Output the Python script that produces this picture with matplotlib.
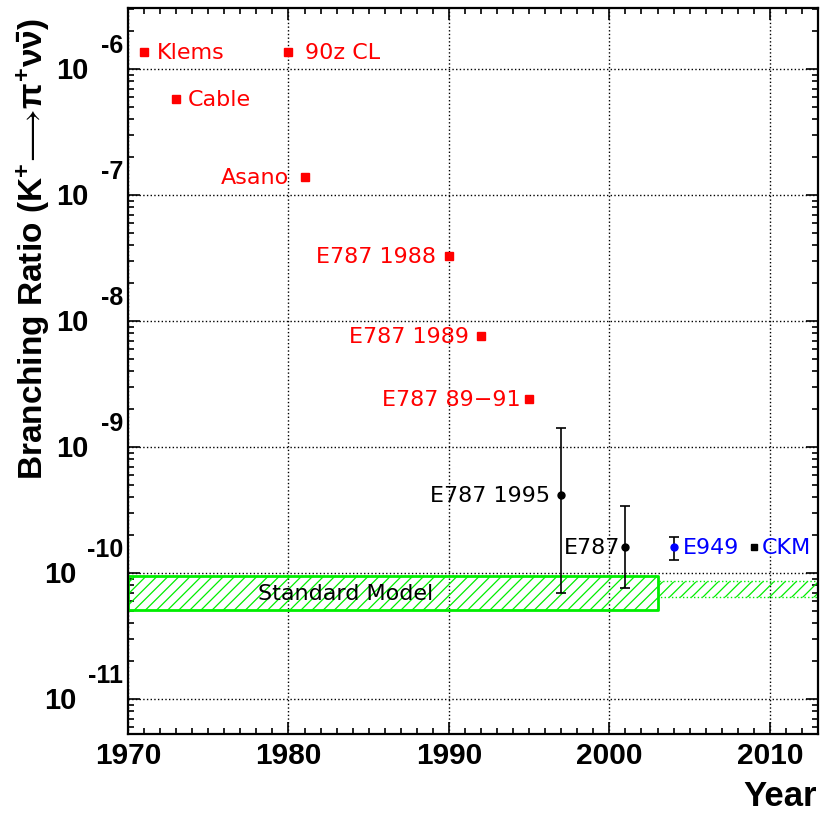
import matplotlib
matplotlib.use("Agg")
import matplotlib.pyplot as plt
from matplotlib.ticker import MultipleLocator, LogLocator, NullFormatter
import numpy as np

plt.rcParams['mathtext.fontset'] = 'custom'
plt.rcParams['mathtext.rm'] = 'Liberation Sans:bold'
plt.rcParams['mathtext.it'] = 'Liberation Sans:bold'
plt.rcParams['mathtext.bf'] = 'Liberation Sans:bold'
plt.rcParams['mathtext.fallback'] = 'stixsans'
plt.rcParams['hatch.linewidth'] = 0.9

# upper limits (red squares)
limit_years = [1971, 1980, 1973, 1981, 1990, 1992, 1995]
limit_br = [1.37e-6, 1.37e-6, 5.8e-7, 1.38e-7, 3.3e-8, 7.6e-9, 2.4e-9]
limit_labels = ['Klems', '90z CL', 'Cable', 'Asano', 'E787 1988', 'E787 1989', 'E787 89\u221291']

# E787 measurements (black)
e787_years = [1997, 2001]
e787_br = [4.2e-10, 1.6e-10]
e787_lo = [7.0e-11, 7.7e-11]
e787_hi = [1.41e-9, 3.4e-10]
e787_labels = ['E787 1995', 'E787']

# E949 (blue)
e949_year = [2004]
e949_br = [1.6e-10]
e949_lo = [1.28e-10]
e949_hi = [1.95e-10]

# CKM
ckm_year = [2009]
ckm_br = [1.6e-10]
ckm_lo = [1.53e-10]
ckm_hi = [1.67e-10]

# Standard Model band
sm_x = [1970, 2003]
sm_lo, sm_hi = 5.06e-11, 9.46e-11
sm_ext_x = [2003, 2013]
sm_ext_lo, sm_ext_hi = 6.5e-11, 8.6e-11

decades = [-6, -7, -8, -9, -10, -11]
year_ticks = [1970, 1980, 1990, 2000, 2010]

fig = plt.figure(figsize=(8.24, 8.23), dpi=100)
ax = fig.add_axes([128/824, 1-734/823, (818-128)/824, (734-8)/823])
ax.set_yscale('log')
ax.set_xlim(1970, 2013)
ax.set_ylim(5.3e-12, 3.05e-6)

# SM band
ax.fill_between(sm_x, sm_lo, sm_hi, facecolor='none', edgecolor='#00ee00',
                hatch='///', linewidth=2, zorder=2)
ax.fill_between(sm_ext_x, sm_ext_lo, sm_ext_hi, facecolor='none', edgecolor='#00ee00',
                hatch='///', linewidth=1, linestyle=':', zorder=2)
ax.text(1978.1, 6.85e-11, 'Standard Model', fontsize=16, va='center', ha='left', zorder=5)

px = 0.72  # points per pixel

# red limits
ax.plot(limit_years, limit_br, 's', color='red', ms=5.5, zorder=4)
red_offsets = [13, 17, 12, -15, -13, -12, -9]
for yr, br, lab, off in zip(limit_years, limit_br, limit_labels, red_offsets):
    ax.annotate(lab, (yr, br), xytext=(off*px, -1*px), textcoords='offset points',
                color='red', fontsize=16, va='center', ha='left' if off > 0 else 'right')

# E787 black
ax.errorbar(e787_years, e787_br,
            yerr=[np.array(e787_br)-np.array(e787_lo), np.array(e787_hi)-np.array(e787_br)],
            fmt='o', color='black', ms=5, lw=1.2, capsize=3.5, capthick=1.2, zorder=4)
for yr, br, lab, off in zip(e787_years, e787_br, e787_labels, [-11, -5]):
    ax.annotate(lab, (yr, br), xytext=(off*px, -1*px), textcoords='offset points',
                color='black', fontsize=16, va='center', ha='right')

# E949 blue
ax.errorbar(e949_year, e949_br,
            yerr=[np.array(e949_br)-np.array(e949_lo), np.array(e949_hi)-np.array(e949_br)],
            fmt='o', color='blue', ecolor='black', ms=5, lw=1.2, capsize=3.5, capthick=1.2, zorder=4)
ax.annotate('E949', (e949_year[0], e949_br[0]), xytext=(9*px, -1*px), textcoords='offset points',
            color='blue', fontsize=16, va='center', ha='left')

# CKM
ax.errorbar(ckm_year, ckm_br,
            yerr=[np.array(ckm_br)-np.array(ckm_lo), np.array(ckm_hi)-np.array(ckm_br)],
            fmt='s', color='black', ms=4, lw=1.2, capsize=2, capthick=1.2, zorder=4)
ax.annotate('CKM', (ckm_year[0], ckm_br[0]), xytext=(8*px, -1*px), textcoords='offset points',
            color='blue', fontsize=16, va='center', ha='left')

# axes styling
ax.xaxis.set_major_locator(MultipleLocator(10))
ax.xaxis.set_minor_locator(MultipleLocator(1))
ax.set_xticks(year_ticks)
ax.set_xticklabels([str(y) for y in year_ticks], fontsize=21.5, fontweight='bold',
                   family='Liberation Sans')
ax.yaxis.set_major_locator(LogLocator(base=10, numticks=20))
ax.yaxis.set_minor_locator(LogLocator(base=10, subs=np.arange(2, 10), numticks=20))
ax.yaxis.set_major_formatter(NullFormatter())
ax.yaxis.set_minor_formatter(NullFormatter())
ax.tick_params(which='both', direction='in', top=True, right=True, width=1.2)
ax.tick_params(which='major', length=8.5)
ax.tick_params(axis='x', which='major', pad=6)
ax.tick_params(which='minor', length=4.5)
for s in ax.spines.values():
    s.set_linewidth(1.6)
ax.grid(which='major', linestyle=':', color='black', linewidth=1.0)

# y tick labels, ROOT style
for d in decades:
    exp = '-' + str(abs(d))
    ax.annotate(exp, (0, 10.0**d), xycoords=('axes fraction', 'data'),
                xytext=(-5*px, 23*px), textcoords='offset points',
                ha='right', va='center', fontsize=18, fontweight='bold', family='Liberation Sans')
    base_off = -40 if abs(d) < 10 else -51
    ax.annotate('10', (0, 10.0**d), xycoords=('axes fraction', 'data'),
                xytext=(base_off*px, -2*px), textcoords='offset points',
                ha='right', va='center', fontsize=21, fontweight='bold', family='Liberation Sans')

fig.text(817/824, 1-797/823, 'Year', ha='right', va='center', fontsize=25,
         fontweight='bold', family='Liberation Sans')
ylab = r'Branching Ratio (K$^{+}\!\longrightarrow\!\pi^{+}\nu\bar{\nu}$)'
fig.text(33/824, 1-18/823, ylab, rotation=90, ha='center', va='top', fontsize=24,
         fontweight='bold', family='Liberation Sans')

fig.savefig('out.png', dpi=100)
